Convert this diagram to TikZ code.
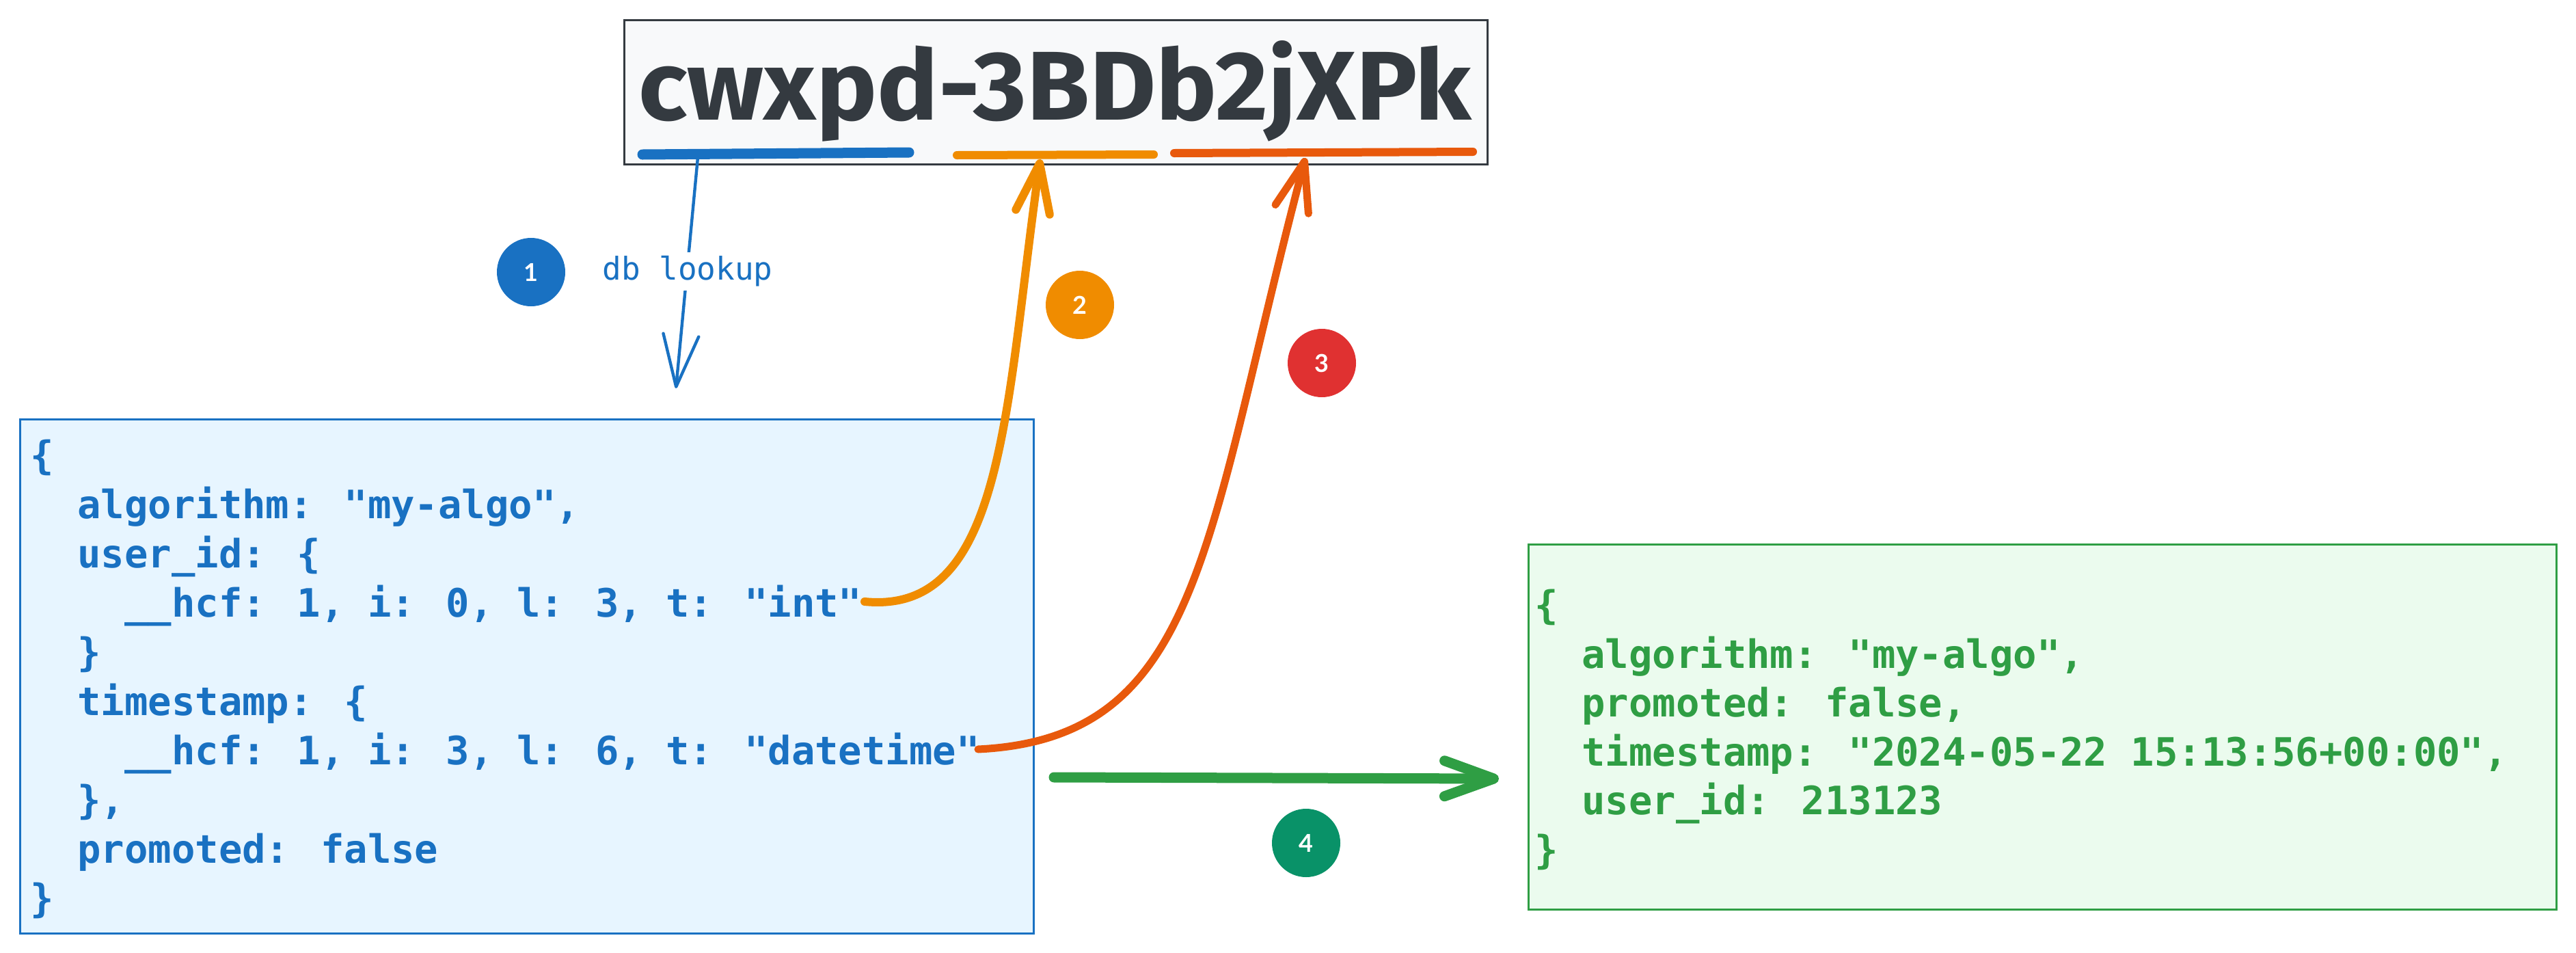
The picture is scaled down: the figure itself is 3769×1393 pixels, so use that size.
\documentclass[tikz,border=0pt]{standalone}
\usepackage{fontspec}
\usetikzlibrary{arrows.meta}
\newfontfamily\codefont{DejaVu Sans Mono}
\newfontfamily\numfont{Lato}
\newfontfamily\handfont{Fira Sans}
\definecolor{exblue}{HTML}{1971C2}
\definecolor{bluefill}{HTML}{E7F5FF}
\definecolor{exgreen}{HTML}{2F9E44}
\definecolor{greenfill}{HTML}{EBFBEE}
\definecolor{exorange}{HTML}{F08C00}
\definecolor{exred}{HTML}{E8590C}
\definecolor{badgered}{HTML}{E03131}
\definecolor{exteal}{HTML}{099268}
\definecolor{exdark}{HTML}{343A40}
\definecolor{topfill}{HTML}{F8F9FA}
\begin{document}
\begin{tikzpicture}[x=0.5pt,y=-0.5pt,
  codeB/.style={anchor=base west, inner sep=0pt, text=exblue, font=\codefont\bfseries\fontsize{28.6}{34}\selectfont},
  codeG/.style={anchor=base west, inner sep=0pt, text=exgreen, font=\codefont\bfseries\fontsize{28.6}{34}\selectfont},
  badge/.style={circle, minimum size=50pt, inner sep=0pt, text=white, font=\numfont\bfseries\fontsize{18}{20}\selectfont},
  underl/.style={line width=6pt, line cap=round},
  barb/.style={-{Straight Barb[length=#1, width=25pt, round]}},
]
\useasboundingbox (0,0) rectangle (3769,1393);

% boxes
\node[draw=exdark, fill=topfill, line width=1.5pt, minimum width=631.5pt, minimum height=105.5pt, inner sep=0pt] (topbox) at (1544.5,134.5) {};
\node[draw=exblue, fill=bluefill, line width=1.5pt, minimum width=741.5pt, minimum height=376pt, inner sep=0pt] (bluebox) at (770.5,989) {};
\node[draw=exgreen, fill=greenfill, line width=1.5pt, minimum width=752pt, minimum height=267pt, inner sep=0pt] (greenbox) at (2988,1063) {};

% title
\node[anchor=base west, inner sep=0pt, text=exdark] (title) at (934,175)
  {\resizebox{609pt}{58pt}{\handfont\bfseries cwxpd-3BDb2jXPk}};

% underlines
\coordinate (u1a) at (940,226); \coordinate (u1b) at (1330,223);
\coordinate (u2a) at (1400,227); \coordinate (u2b) at (1688,226);
\coordinate (u3a) at (1718,224); \coordinate (u3b) at (2155,222);
\draw[underl, exblue, line width=7.5pt] (u1a) -- (u1b);
\draw[underl, exorange] (u2a) -- (u2b);
\draw[underl, exred] (u3a) -- (u3b);

% blue code
\node[codeB] (b1) at (44,686) {\{};
\node[codeB] (b2) at (113,758) {algorithm: "my-algo",};
\node[codeB] (b3) at (113,830) {user\_id: \{};
\node[codeB] (b4) at (182,902) {\_\_hcf: 1, i: 0, l: 3, t: "int"};
\node[codeB] (b5) at (113,974) {\}};
\node[codeB] (b6) at (113,1046) {timestamp: \{};
\node[codeB] (b7) at (182,1118) {\_\_hcf: 1, i: 3, l: 6, t: "datetime"};
\node[codeB] (b8) at (113,1190) {\},};
\node[codeB] (b9) at (113,1262) {promoted: false};
\node[codeB] (b10) at (44,1334) {\}};

% green code
\node[codeG] (g1) at (2245,905.5) {\{};
\node[codeG] (g2) at (2314,977) {algorithm: "my-algo",};
\node[codeG] (g3) at (2314,1048.5) {promoted: false,};
\node[codeG] (g4) at (2314,1120) {timestamp: "2024-05-22 15:13:56+00:00",};
\node[codeG] (g5) at (2314,1191.5) {user\_id: 213123};
\node[codeG] (g6) at (2245,1263) {\}};

% arrow 1: db lookup
\coordinate (bS) at (1021,230);
\coordinate (bT) at (989,568);
\draw[exblue, line width=2.2pt, line cap=round, -{Straight Barb[length=38pt, width=26pt, round]}] (bS) -- (bT);
\node[fill=white, inner sep=3pt, text=exblue, font=\codefont\fontsize{23}{26}\selectfont] (lookup) at (1006,397) {db lookup};

% arrow 2
\coordinate (oS) at (1265,880);
\coordinate (oT) at (1522,233);
\draw[exorange, line width=6pt, line cap=round, barb=36pt] (oS) .. controls (1470,900) and (1470,600) .. (oT);

% arrow 3
\coordinate (rS) at (1431,1096);
\coordinate (rT) at (1910,231);
\draw[exred, line width=5.5pt, line cap=round, barb=36pt] (rS) .. controls (1760,1080) and (1762,791) .. (rT);

% arrow 4
\coordinate (gS) at (1542,1137);
\coordinate (gT) at (2193,1139);
\draw[exgreen, line width=7.5pt, line cap=round, -{Straight Barb[length=36pt, width=26pt, round]}] (gS) -- (gT);

% badges
\node[badge, fill=exblue] (n1) at (777,398) {1};
\node[badge, fill=exorange] (n2) at (1580,446) {2};
\node[badge, fill=badgered] (n3) at (1934,531) {3};
\node[badge, fill=exteal] (n4) at (1911,1233) {4};
\end{tikzpicture}
\end{document}
